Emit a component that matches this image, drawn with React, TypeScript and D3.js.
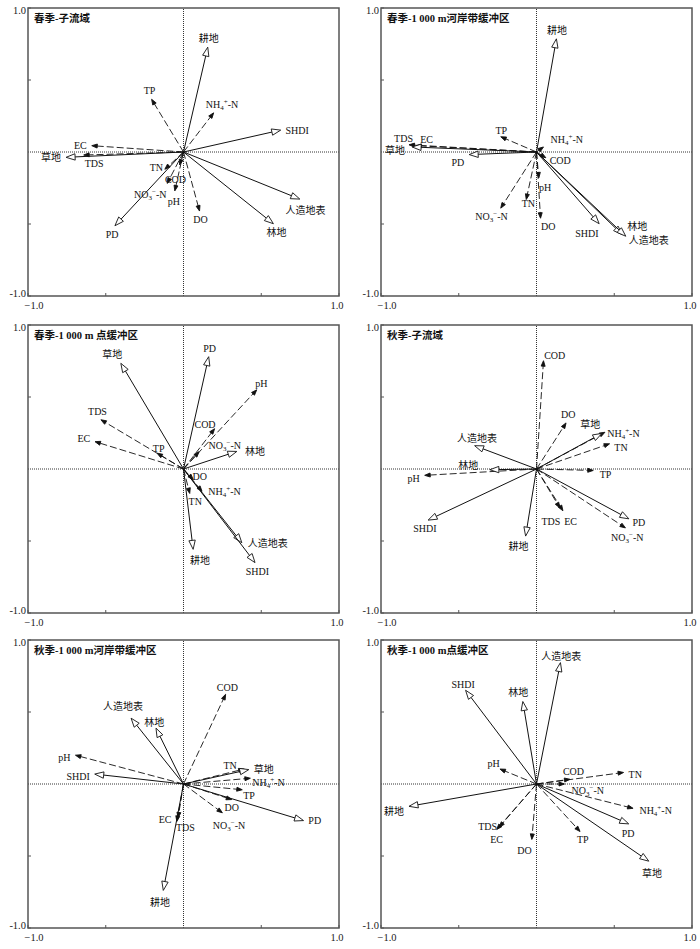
import * as d3 from "d3";
import React from "react";

// variable names, in the order used by every loading array below
const landVars = ["耕地", "林地", "草地", "人造地表", "SHDI", "PD"];
const waterVars = ["TP", "TN", "NH4", "NO3", "COD", "DO", "pH", "EC", "TDS"];

const panelTitles = [
  "春季-子流域",
  "春季-1 000 m河岸带缓冲区",
  "春季-1 000 m 点缓冲区",
  "秋季-子流域",
  "秋季-1 000 m河岸带缓冲区",
  "秋季-1 000 m点缓冲区",
];

// RDA loadings [axis1, axis2]
const springSubLand = [[0.156, 0.728], [0.578, -0.498], [-0.755, -0.037], [0.748, -0.327], [0.625, 0.152], [-0.441, -0.512]];
const springSubWater = [[-0.205, 0.366], [-0.12, -0.12], [0.194, 0.272], [-0.105, -0.218], [-0.025, -0.09], [0.103, -0.41], [-0.056, -0.27], [-0.59, 0.044], [-0.642, -0.021]];

const springRiparianLand = [[0.128, 0.786], [0.552, -0.574], [-0.8, 0.035], [0.574, -0.585], [0.403, -0.498], [-0.433, -0.018]];
const springRiparianWater = [[-0.23, 0.106], [-0.066, -0.33], [0.045, 0.035], [-0.23, -0.39], [0.06, -0.04], [0.026, -0.46], [0.015, -0.18], [-0.775, 0.044], [-0.82, 0.05]];

const springPointLand = [[0.062, -0.558], [0.343, 0.122], [-0.403, 0.734], [0.375, -0.512], [0.46, -0.65], [0.162, 0.78]];
const springPointWater = [[-0.17, 0.11], [0.04, -0.17], [0.119, -0.155], [0.1, 0.12], [0.2, 0.28], [0.062, -0.073], [0.471, 0.55], [-0.569, 0.19], [-0.531, 0.342]];

const autumnSubLand = [[-0.07, -0.466], [-0.3, -0.005], [0.42, 0.247], [-0.398, 0.162], [-0.697, -0.355], [0.594, -0.346]];
const autumnSubWater = [[0.365, -0.01], [0.47, 0.175], [0.44, 0.255], [0.572, -0.409], [0.045, 0.752], [0.19, 0.32], [-0.719, -0.044], [0.17, -0.29], [0.15, -0.27]];

const autumnRiparianLand = [[-0.13, -0.739], [-0.177, 0.388], [0.42, 0.1], [-0.337, 0.457], [-0.571, 0.069], [0.772, -0.254]];
const autumnRiparianWater = [[0.378, -0.04], [0.39, 0.104], [0.43, 0.04], [0.25, -0.2], [0.271, 0.623], [0.31, -0.108], [-0.695, 0.2], [-0.043, -0.26], [-0.035, -0.235]];

const autumnPointLand = [[-0.82, -0.155], [-0.088, 0.573], [0.722, -0.536], [0.154, 0.843], [-0.456, 0.651], [0.593, -0.277]];
const autumnPointWater = [[0.28, -0.33], [0.56, 0.08], [0.621, -0.169], [0.18, 0.0], [0.215, 0.033], [-0.03, -0.385], [-0.235, 0.104], [-0.24, -0.3], [-0.256, -0.316]];

const panelLand = [springSubLand, springRiparianLand, springPointLand, autumnSubLand, autumnRiparianLand, autumnPointLand];
const panelWater = [springSubWater, springRiparianWater, springPointWater, autumnSubWater, autumnRiparianWater, autumnPointWater];

const axisTicks = [-1, -0.5, 0.5, 1];

// layout
const colLeft = [28, 381];
const rowTop = [8, 325, 640];
const frameW = 311;
const frameH = 288;

// hand nudges for crowded labels [dx, dy] in px
const labelNudge: Record<string, [number, number]>[] = [
  {
    NH4: [6, 0], TDS: [25, 8.5], TN: [-5.5, -10.5], COD: [-3, 6], NO3: [-15, 3], pH: [0, 2],
    人造地表: [-19, 11],
  },
  {
    TDS: [9, -6.5], EC: [22, -6.5], 草地: [-2, 3.5], PD: [0, 8], TP: [11, -6], NH4: [20, 1.5],
    COD: [11, -6], pH: [6, 1], TN: [3, -4.5], NO3: [-7, 0], DO: [7.5, 0], SHDI: [-15, 1],
    林地: [12, -16.7], 人造地表: [20, -4],
  },
  {
    草地: [-6.5, 0], pH: [2, 2], EC: [0, -3], TP: [5, 4], COD: [-12, 4], NO3: [23, 2], 林地: [3.5, 0],
    DO: [4, -11.5], NH4: [20, -8], TN: [4.5, 0], 人造地表: [23.5, -7.7], 耕地: [6.5, 3],
  },
  {
    COD: [11, 3], 草地: [-15, 0], NH4: [15, 10], TN: [0, 3.5], TP: [1.5, 4], 人造地表: [27, -7],
    林地: [-6.5, -4.5], pH: [0, 3], SHDI: [13, 8], 耕地: [-6.5, 2], TDS: [-11, 5], EC: [5.5, 2],
    PD: [6.5, -5], NO3: [-1.5, 1],
  },
  {
    COD: [0, 2], 人造地表: [-5.5, -3.5], 林地: [0, 3], pH: [0, 2], SHDI: [0, 2], TN: [-25.5, -4],
    NH4: [-3, 4], TP: [-4, 6], DO: [-12, 8], NO3: [3.5, 4], EC: [-11, -10], TDS: [8, 1], 耕地: [-2.5, 3.5],
  },
  {
    人造地表: [0, 2], SHDI: [0, 2.5], 林地: [-4, 0], pH: [4.5, -5.5], COD: [-12, -7.7], TN: [0, 2],
    NO3: [2, 6.5], NH4: [1.5, 2], 耕地: [0, 5], PD: [-11.5, 9.5], 草地: [0, 3.5], TP: [0, -1],
    TDS: [-6.4, -11.5], EC: [0, 3.5], DO: [-7, 3],
  },
];

const serif = "'Liberation Serif', 'Times New Roman', 'Noto Sans CJK SC', serif";

function VarLabel({ name }: { name: string }) {
  if (name === "NH4") {
    return (
      <>
        NH<tspan fontSize={7} dy={2}>4</tspan>
        <tspan fontSize={7} dy={-6}>+</tspan>
        <tspan dy={4}>-N</tspan>
      </>
    );
  }
  if (name === "NO3") {
    return (
      <>
        NO<tspan fontSize={7} dy={2}>3</tspan>
        <tspan fontSize={7} dy={-6}>−</tspan>
        <tspan dy={4}>-N</tspan>
      </>
    );
  }
  return <>{name}</>;
}

function Arrow({ x0, y0, x1, y1, name, open, nudge }: any) {
  const dx = x1 - x0;
  const dy = y1 - y0;
  const len = Math.hypot(dx, dy) || 1;
  const ux = dx / len;
  const uy = dy / len;
  const headL = open ? 9 : 5.5;
  const headW = open ? 3.2 : 2;
  const bx = x1 - ux * headL;
  const by = y1 - uy * headL;
  const head = [
    [x1, y1],
    [bx - uy * headW, by + ux * headW],
    [bx + uy * headW, by - ux * headW],
  ];

  let lx: number, ly: number, anchor: string;
  if (Math.abs(uy) >= 0.45) {
    anchor = "middle";
    lx = x1 + ux * 4;
    ly = uy > 0 ? y1 + 12 : y1 - 5;
  } else {
    anchor = ux > 0 ? "start" : "end";
    lx = x1 + ux * 5;
    ly = y1 + 3.5;
  }
  if (nudge) {
    lx += nudge[0];
    ly += nudge[1];
  }

  return (
    <g>
      <line
        x1={x0}
        y1={y0}
        x2={open ? bx : x1 - ux * 2}
        y2={open ? by : y1 - uy * 2}
        stroke="#111"
        strokeWidth={open ? 1 : 0.9}
        strokeDasharray={open ? undefined : "7,3"}
      />
      <polygon
        points={head.map((p) => p.join(",")).join(" ")}
        fill={open ? "#fff" : "#111"}
        stroke="#111"
        strokeWidth={0.9}
        strokeLinejoin="miter"
      />
      <text x={lx} y={ly} textAnchor={anchor} fontSize={10} fontFamily={serif} fill="#111">
        <VarLabel name={name} />
      </text>
    </g>
  );
}

function Panel({ index }: { index: number }) {
  const left = colLeft[index % 2];
  const top = rowTop[Math.floor(index / 2)];
  const x = d3.scaleLinear().domain([-1, 1]).range([left, left + frameW]);
  const y = d3.scaleLinear().domain([-1, 1]).range([top + frameH, top]);
  const nudges = labelNudge[index];

  return (
    <g>
      <line x1={x(0)} x2={x(0)} y1={y(-1)} y2={y(1)} stroke="#333" strokeWidth={1} strokeDasharray="1,1" />
      <line x1={x(-1)} x2={x(1)} y1={y(0)} y2={y(0)} stroke="#333" strokeWidth={1} strokeDasharray="1,1" />
      {axisTicks.map((t) => (
        <g key={t}>
          <line x1={x(-1)} x2={x(-1) + 3} y1={y(t)} y2={y(t)} stroke="#555" strokeWidth={1} />
          <line x1={x(t)} x2={x(t)} y1={y(-1)} y2={y(-1) - 3} stroke="#555" strokeWidth={1} />
        </g>
      ))}
      <rect x={left} y={top} width={frameW} height={frameH} fill="none" stroke="#555" strokeWidth={1.5} />
      <text x={left - 2} y={y(1) + 6} textAnchor="end" fontSize={10.5} fontFamily={serif} fill="#222">1.0</text>
      <text x={left - 2} y={y(-1) + 1} textAnchor="end" fontSize={10.5} fontFamily={serif} fill="#222">-1.0</text>
      <text x={x(-1) + 6} y={y(-1) + 13} textAnchor="middle" fontSize={10.5} fontFamily={serif} fill="#222">−1.0</text>
      <text x={x(1) - 2} y={y(-1) + 13} textAnchor="middle" fontSize={10.5} fontFamily={serif} fill="#222">1.0</text>
      <text x={left + 6} y={top + 14} fontSize={10.5} fontFamily={serif} fontWeight="bold" fill="#111">
        {panelTitles[index]}
      </text>
      {panelWater[index].map((d, i) => (
        <Arrow
          key={"w" + i}
          x0={x(0)}
          y0={y(0)}
          x1={x(d[0])}
          y1={y(d[1])}
          name={waterVars[i]}
          open={false}
          nudge={nudges[waterVars[i]]}
        />
      ))}
      {panelLand[index].map((d, i) => (
        <Arrow
          key={"l" + i}
          x0={x(0)}
          y0={y(0)}
          x1={x(d[0])}
          y1={y(d[1])}
          name={landVars[i]}
          open={true}
          nudge={nudges[landVars[i]]}
        />
      ))}
    </g>
  );
}

export default function App() {
  return (
    <svg
      width={700}
      height={949}
      style={{ position: "absolute", left: 0, top: 0, background: "#fff" }}
    >
      <rect width={700} height={949} fill="#fff" />
      {d3.range(6).map((i) => (
        <Panel key={i} index={i} />
      ))}
    </svg>
  );
}
